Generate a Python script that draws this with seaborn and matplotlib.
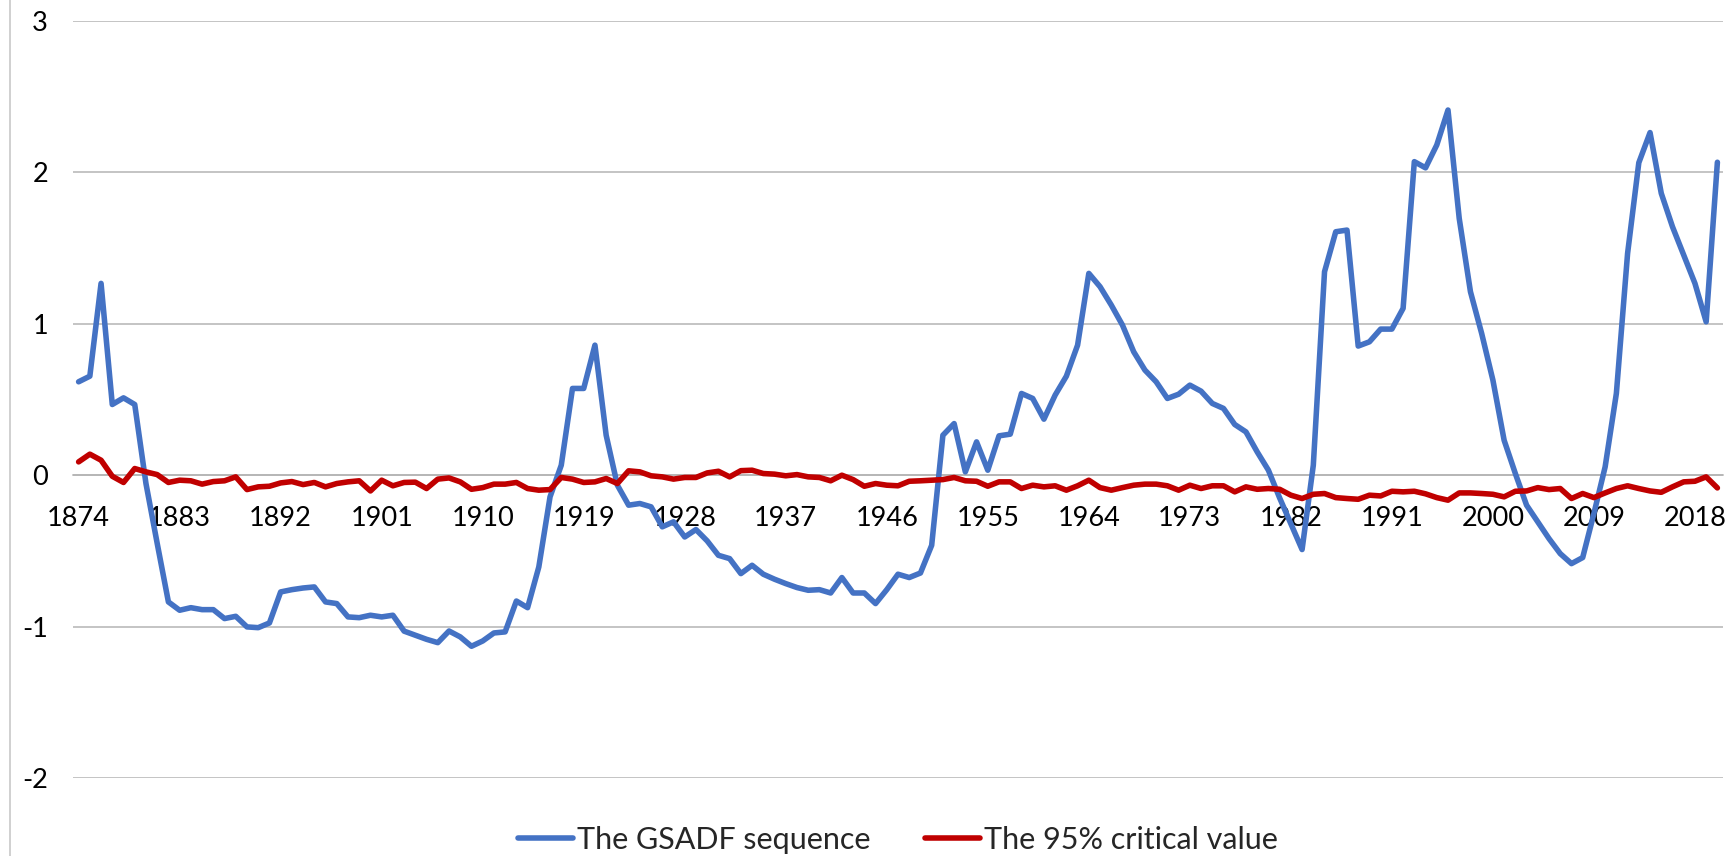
import matplotlib
matplotlib.use("Agg")
import matplotlib.pyplot as plt
from matplotlib.lines import Line2D
import numpy as np
import pandas as pd
import seaborn as sns

years = list(range(1874, 2021))
tick_years = list(range(1874, 2021, 9))
y_ticks = [-2, -1, 0, 1, 2, 3]

gsadf = [0.617, 0.654, 1.267, 0.467, 0.511, 0.467, -0.055, -0.45, -0.837, -0.892,
         -0.875, -0.888, -0.888, -0.947, -0.932, -1.002, -1.007, -0.976, -0.771, -0.756,
         -0.745, -0.738, -0.837, -0.848, -0.936, -0.941, -0.925, -0.936, -0.925, -1.03,
         -1.057, -1.084, -1.106, -1.029, -1.068, -1.130, -1.095, -1.042, -1.035, -0.831,
         -0.875, -0.606, -0.143, 0.066, 0.573, 0.573, 0.859, 0.264, -0.066, -0.198,
         -0.187, -0.209, -0.341, -0.308, -0.408, -0.359, -0.434, -0.529, -0.551, -0.650,
         -0.595, -0.654, -0.687, -0.716, -0.742, -0.760, -0.756, -0.778, -0.676, -0.778,
         -0.778, -0.848, -0.756, -0.654, -0.676, -0.646, -0.463, 0.264, 0.341, 0.022,
         0.220, 0.033, 0.260, 0.271, 0.540, 0.507, 0.370, 0.529, 0.654, 0.859,
         1.333, 1.245, 1.124, 0.991, 0.815, 0.694, 0.617, 0.507, 0.535, 0.595,
         0.555, 0.474, 0.441, 0.335, 0.286, 0.154, 0.033, -0.15, -0.32, -0.491,
         0.066, 1.344, 1.608, 1.619, 0.853, 0.881, 0.965, 0.965, 1.102, 2.071,
         2.03, 2.181, 2.412, 1.696, 1.212, 0.936, 0.628, 0.231, 0.011, -0.198,
         -0.308, -0.419, -0.518, -0.584, -0.544, -0.253, 0.055, 0.540, 1.465, 2.064,
         2.263, 1.862, 1.641, 1.454, 1.267, 1.013, 2.067]

critical = [0.088, 0.139, 0.099, -0.007, -0.048, 0.044, 0.022, 0.004, -0.048, -0.033,
            -0.037, -0.059, -0.042, -0.037, -0.011, -0.095, -0.077, -0.073, -0.051, -0.042,
            -0.062, -0.048, -0.077, -0.055, -0.044, -0.037, -0.104, -0.033, -0.070, -0.048,
            -0.046, -0.088, -0.026, -0.018, -0.044, -0.093, -0.082, -0.059, -0.059, -0.048,
            -0.088, -0.099, -0.095, -0.015, -0.026, -0.048, -0.044, -0.022, -0.055, 0.029,
            0.022, -0.004, -0.011, -0.026, -0.015, -0.015, 0.015, 0.026, -0.011, 0.030,
            0.033, 0.011, 0.007, -0.004, 0.004, -0.011, -0.015, -0.037, 0.000, -0.029,
            -0.073, -0.055, -0.066, -0.070, -0.040, -0.037, -0.033, -0.029, -0.015, -0.037,
            -0.040, -0.073, -0.044, -0.044, -0.088, -0.066, -0.077, -0.070, -0.099, -0.070,
            -0.033, -0.082, -0.099, -0.082, -0.066, -0.059, -0.059, -0.070, -0.099, -0.066,
            -0.088, -0.070, -0.070, -0.110, -0.077, -0.093, -0.088, -0.093, -0.132, -0.154,
            -0.126, -0.121, -0.148, -0.154, -0.159, -0.132, -0.137, -0.106, -0.110, -0.106,
            -0.123, -0.148, -0.165, -0.117, -0.117, -0.121, -0.126, -0.143, -0.106, -0.104,
            -0.082, -0.095, -0.088, -0.154, -0.121, -0.148, -0.117, -0.088, -0.070, -0.088,
            -0.104, -0.113, -0.077, -0.044, -0.040, -0.011, -0.084]

series_names = ["The GSADF sequence", "The 95% critical value"]
colors = ["#4472C4", "#C00000"]

sns.set_theme(style="white")
plt.rcParams["font.family"] = ["Lato", "DejaVu Sans"]

df = pd.DataFrame({"year": years, series_names[0]: gsadf, series_names[1]: critical})

W, H = 1735, 856
fig = plt.figure(figsize=(W / 100, H / 100), dpi=100)
ax = fig.add_axes([73 / W, 1 - 778 / H, (1723 - 73) / W, (778 - 21) / H])

LW = 4.0
grid_c = "#B4B4B4"
for name, col in zip(series_names, colors):
    sns.lineplot(data=df, x="year", y=name, ax=ax, color=col, lw=LW,
                 label=name, legend=False)
for ln in ax.get_lines():
    ln.set_linewidth(LW)
    ln.set_solid_joinstyle("round")
    ln.set_solid_capstyle("round")

ax.set_xlim(1873.5, 2020.5)
ax.set_ylim(-2, 3)
ax.set_yticks(y_ticks)
ax.set_yticklabels([str(v) for v in y_ticks])
ax.set_xticks(tick_years)
ax.set_xticklabels([str(v) for v in tick_years])
ax.yaxis.grid(True, color=grid_c, linewidth=1.1)
ax.xaxis.grid(False)
ax.set_axisbelow(True)
for s in ["top", "right", "left"]:
    ax.spines[s].set_visible(False)
ax.spines["bottom"].set_position(("data", 0))
ax.spines["bottom"].set_color(grid_c)
ax.spines["bottom"].set_linewidth(1.1)
ax.spines["bottom"].set_zorder(0.5)
ax.tick_params(axis="x", length=0, pad=22, labelsize=19.5, colors="black")
ax.tick_params(axis="y", length=0, pad=18, labelsize=19.5, colors="black")
ax.set_xlabel("")
ax.set_ylabel("")

fig.add_artist(Line2D([9.5 / W, 9.5 / W], [0, 1], color="#C8C8C8", linewidth=1.2))

handles = [Line2D([0], [0], color=c, linewidth=LW) for c in colors]
fig.legend(handles, series_names, loc="center", ncol=2, frameon=False,
           bbox_to_anchor=(898 / W, 1 - 840 / H), fontsize=22,
           handlelength=1.8, handletextpad=0.12, columnspacing=1.8)

fig.savefig("out.png", dpi=100)
